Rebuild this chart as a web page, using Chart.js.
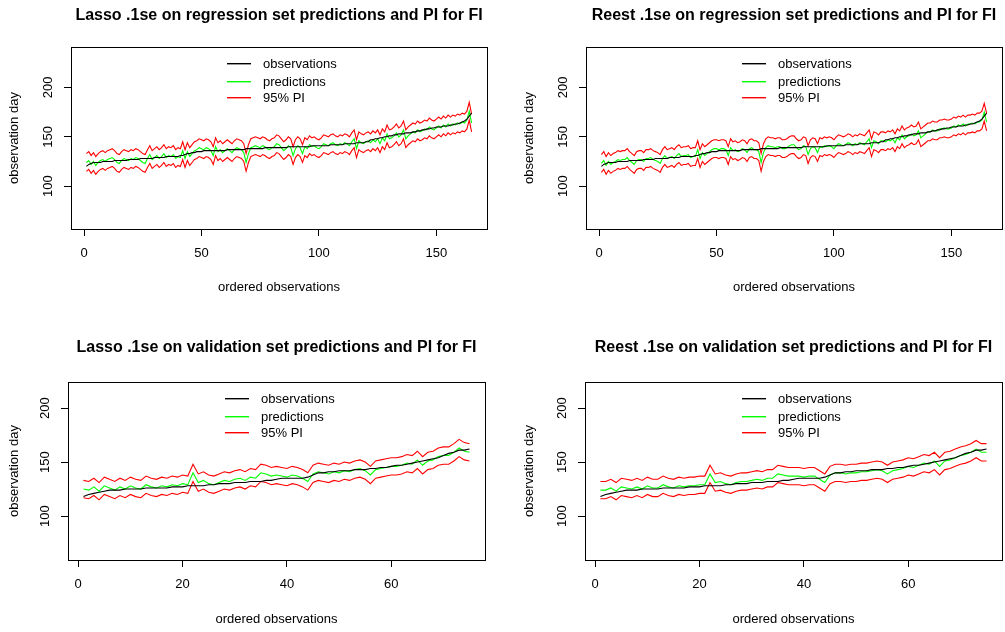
<!DOCTYPE html>
<html>
<head>
<meta charset="utf-8">
<script src="https://cdn.jsdelivr.net/npm/chart.js@4.4.0/dist/chart.umd.min.js"></script>
<style>
  body { margin: 0; background: #fff; }
  #wrap { position: relative; width: 1005px; height: 632px; overflow: hidden; background: #fff; }
  canvas { position: absolute; }
</style>
</head>
<body>
<div id="wrap">
  <canvas id="lassoReg" width="502" height="316" style="left:0px;top:0px"></canvas>
  <canvas id="reestReg" width="490" height="316" style="left:515px;top:0px"></canvas>
  <canvas id="lassoVal" width="502" height="300" style="left:0px;top:332px"></canvas>
  <canvas id="reestVal" width="490" height="300" style="left:515px;top:332px"></canvas>
</div>
<script>
// ---- regression set (165 ordered observations) ----
const obsReg = [
  120,122,123,124,124,124,124,125,125,125,
  125,125,126,126,126,126,126,126,127,127,
  127,127,127,128,128,128,128,128,128,129,
  129,129,129,129,130,130,130,130,130,130,
  131,131,132,133,133,134,134,135,135,135,
  136,136,136,136,136,136,136,136,136,136,
  137,137,137,137,137,137,137,137,138,138,
  138,138,138,138,138,138,139,139,139,139,
  139,139,139,139,139,139,140,140,140,140,
  140,140,140,140,140,140,141,141,141,141,
  141,141,141,141,142,142,142,142,142,142,
  143,143,143,143,143,144,144,144,144,145,
  145,147,147,148,148,149,149,150,150,151,
  151,152,152,153,153,153,154,154,154,155,
  155,156,156,157,157,158,158,159,159,160,
  160,160,161,161,161,162,162,163,163,164,
  165,166,168,171,174
];
const lassoRegPred = [
  124,126,122,125,121,124,126,127,125,127,
  128,129,127,124,123,126,128,127,126,128,
  127,129,128,126,124,123,128,132,127,129,
  131,128,130,133,129,131,130,132,128,130,
  129,136,128,135,130,133,136,137,139,138,
  137,139,138,136,131,140,135,137,134,136,
  138,136,134,137,139,138,137,134,124,133,
  139,140,141,140,139,141,140,138,137,139,
  140,143,142,139,136,138,141,139,131,138,
  141,139,133,140,138,142,140,141,139,138,
  140,143,142,141,143,144,142,141,143,142,
  144,143,141,145,148,138,146,144,143,145,
  146,144,147,145,148,143,149,146,153,148,
  149,151,154,150,152,157,148,151,153,155,
  154,157,155,156,158,157,160,158,157,159,
  161,159,162,160,163,161,163,162,164,163,
  165,164,167,176,164
];
const lassoRegUpper = [
  133,135,131,134,130,133,135,136,134,136,
  137,138,136,133,132,135,137,136,135,137,
  136,138,137,135,133,132,137,141,136,138,
  140,137,139,142,138,140,139,141,137,139,
  138,145,137,144,139,142,145,146,148,147,
  146,148,147,145,140,149,144,146,143,145,
  147,145,143,146,148,147,146,143,133,142,
  148,149,150,149,148,150,149,147,146,148,
  149,152,151,148,145,147,150,148,140,147,
  150,148,142,149,147,151,149,150,148,147,
  149,152,151,150,152,153,151,150,152,151,
  153,152,150,154,157,147,155,153,152,154,
  155,153,156,154,157,152,158,155,162,157,
  158,160,163,159,161,166,157,160,162,164,
  163,166,164,165,167,166,169,167,166,168,
  170,168,171,169,172,170,172,171,173,172,
  174,173,176,185,173
];
const lassoRegLower = [
  115,117,113,116,112,115,117,118,116,118,
  119,120,118,115,114,117,119,118,117,119,
  118,120,119,117,115,114,119,123,118,120,
  122,119,121,124,120,122,121,123,119,121,
  120,127,119,126,121,124,127,128,130,129,
  128,130,129,127,122,131,126,128,125,127,
  129,127,125,128,130,129,128,125,115,124,
  130,131,132,131,130,132,131,129,128,130,
  131,134,133,130,127,129,132,130,122,129,
  132,130,124,131,129,133,131,132,130,129,
  131,134,133,132,134,135,133,132,134,133,
  135,134,132,136,139,129,137,135,134,136,
  137,135,138,136,139,134,140,137,144,139,
  140,142,145,141,143,148,139,142,144,146,
  145,148,146,147,149,148,151,149,148,150,
  152,150,153,151,154,152,154,153,155,154,
  156,155,158,167,155
];
const reestRegPred = [
  123,126,121,125,122,124,125,127,126,127,
  127,129,126,124,122,126,127,127,125,128,
  128,129,127,126,125,123,128,131,128,129,
  130,128,131,133,130,131,131,132,129,130,
  130,137,128,134,131,133,135,137,138,138,
  137,138,138,137,131,139,136,137,135,136,
  138,137,134,138,139,137,137,135,124,134,
  139,141,140,140,139,140,140,138,138,139,
  141,142,142,139,137,138,141,140,132,138,
  140,139,134,140,139,141,140,141,140,138,
  141,143,142,141,142,144,143,141,143,142,
  144,143,142,145,148,139,146,145,143,146,
  146,145,147,146,148,144,149,147,152,148,
  150,151,153,151,152,156,149,151,153,155,
  155,157,156,156,158,158,159,158,158,159,
  161,160,162,161,163,161,163,163,164,163,
  165,165,167,175,165
];
const reestRegUpper = [
  132,135,130,134,131,133,134,136,135,136,
  136,138,135,133,131,135,136,136,134,137,
  137,138,136,135,134,132,137,140,137,138,
  139,137,140,142,139,140,140,141,138,139,
  139,146,137,143,140,142,144,146,147,147,
  146,147,147,146,140,148,145,146,144,145,
  147,146,143,147,148,146,146,144,133,143,
  148,150,149,149,148,149,149,147,147,148,
  150,151,151,148,146,147,150,149,141,147,
  149,148,143,149,148,150,149,150,149,147,
  150,152,151,150,151,153,152,150,152,151,
  153,152,151,154,157,148,155,154,152,155,
  155,154,156,155,157,153,158,156,161,157,
  159,160,162,160,161,165,158,160,162,164,
  164,166,165,165,167,167,168,167,167,168,
  170,169,171,170,172,170,172,172,173,172,
  174,174,176,184,174
];
const reestRegLower = [
  114,117,112,116,113,115,116,118,117,118,
  118,120,117,115,113,117,118,118,116,119,
  119,120,118,117,116,114,119,122,119,120,
  121,119,122,124,121,122,122,123,120,121,
  121,128,119,125,122,124,126,128,129,129,
  128,129,129,128,122,130,127,128,126,127,
  129,128,125,129,130,128,128,126,115,125,
  130,132,131,131,130,131,131,129,129,130,
  132,133,133,130,128,129,132,131,123,129,
  131,130,125,131,130,132,131,132,131,129,
  132,134,133,132,133,135,134,132,134,133,
  135,134,133,136,139,130,137,136,134,137,
  137,136,138,137,139,135,140,138,143,139,
  141,142,144,142,143,147,140,142,144,146,
  146,148,147,147,149,149,150,149,149,150,
  152,151,153,152,154,152,154,154,155,154,
  156,156,158,166,156
];

// ---- validation set (75 ordered observations) ----
const obsVal = [
  118,120,121,122,123,124,124,124,125,125,
  125,125,126,126,126,126,126,127,127,127,
  128,128,128,128,129,129,130,130,130,131,
  131,131,132,132,132,133,133,134,135,135,
  135,135,135,136,138,140,140,141,141,142,
  142,142,143,143,143,144,144,145,145,146,
  147,147,148,149,150,151,152,153,154,156,
  158,159,161,161,162
];
const lassoValPred = [
  125,124,127,123,128,126,124,127,125,128,
  126,125,129,127,126,128,127,129,128,130,
  129,140,131,133,130,129,131,133,132,134,
  135,133,136,135,140,139,137,138,137,136,
  138,137,135,132,139,141,140,139,141,140,
  142,141,143,144,142,138,143,144,145,146,
  146,147,149,148,152,147,151,152,155,156,
  156,159,163,160,159
];
const lassoValUpper = [
  133,132,135,131,136,134,132,135,133,136,
  134,133,137,135,134,136,135,137,136,138,
  137,148,139,141,138,137,139,141,140,142,
  143,141,144,143,148,147,145,146,145,144,
  146,145,143,140,147,149,148,147,149,148,
  150,149,151,152,150,146,151,152,153,154,
  154,155,157,156,160,155,159,160,163,164,
  164,167,171,168,167
];
const lassoValLower = [
  117,116,119,115,120,118,116,119,117,120,
  118,117,121,119,118,120,119,121,120,122,
  121,132,123,125,122,121,123,125,124,126,
  127,125,128,127,132,131,129,130,129,128,
  130,129,127,124,131,133,132,131,133,132,
  134,133,135,136,134,130,135,136,137,138,
  138,139,141,140,144,139,143,144,147,148,
  148,151,155,152,151
];
const reestValPred = [
  124,124,126,123,127,126,125,127,125,128,
  126,126,129,127,126,128,127,128,128,129,
  129,139,131,132,130,129,131,132,132,133,
  134,133,135,135,139,138,137,137,137,136,
  137,137,134,131,138,140,140,139,140,140,
  141,141,142,143,142,139,142,143,144,146,
  145,147,149,148,151,146,151,152,154,156,
  157,159,162,159,159
];
const reestValUpper = [
  132,132,134,131,135,134,133,135,133,136,
  134,134,137,135,134,136,135,136,136,137,
  137,147,139,140,138,137,139,140,140,141,
  142,141,143,143,147,146,145,145,145,144,
  145,145,142,139,146,148,148,147,148,148,
  149,149,150,151,150,147,150,151,152,154,
  153,155,157,156,159,154,159,160,162,164,
  165,167,170,167,167
];
const reestValLower = [
  116,116,118,115,119,118,117,119,117,120,
  118,118,121,119,118,120,119,120,120,121,
  121,131,123,124,122,121,123,124,124,125,
  126,125,127,127,131,130,129,129,129,128,
  129,129,126,123,130,132,132,131,132,132,
  133,133,134,135,134,131,134,135,136,138,
  137,139,141,140,143,138,143,144,146,148,
  149,151,154,151,151
];

const xTicksReg = [0, 50, 100, 150];
const xTicksVal = [0, 20, 40, 60];
const yTicks = [100, 150, 200];
const seriesLabels = ["observations", "predictions", "95% PI"];
const seriesColors = ["#000000", "#00ff00", "#ff0000"];

const FONT = '"Liberation Sans", Arial, Helvetica, sans-serif';
const legendRows = [16.3, 33.7, 49.7];

// box around the plot region, like R's box()
const boxPlugin = {
  id: "rBox",
  afterDraw(chart) {
    const { ctx, chartArea: a } = chart;
    ctx.save();
    ctx.strokeStyle = "#000";
    ctx.lineWidth = 1;
    ctx.strokeRect(Math.round(a.left) + 0.5, Math.round(a.top) + 0.5,
      Math.round(a.right - a.left), Math.round(a.bottom - a.top));
    ctx.restore();
  }
};

// R-style legend with bty="n", at the top centre of the plot
const legendPlugin = {
  id: "rLegend",
  afterDraw(chart) {
    const { ctx, chartArea: a } = chart;
    const cx = Math.round((a.left + a.right) / 2);
    ctx.save();
    ctx.font = "13px " + FONT;
    ctx.textBaseline = "middle";
    ctx.textAlign = "left";
    seriesLabels.forEach((label, i) => {
      const y = Math.round(a.top + legendRows[i]);
      ctx.fillStyle = seriesColors[i];
      ctx.fillRect(cx - 52, y, 24, 1.4);
      ctx.fillStyle = "#000000";
      ctx.fillText(label, cx - 16, y + 1);
    });
    ctx.restore();
  }
};

function makePanel(id, p) {
  const n = p.obs.length;
  const idx = Array.from({ length: n }, (_, i) => i + 1);
  const line = (label, data, color) => ({
    label: label, data: data, borderColor: color, borderWidth: 1.1,
    pointRadius: 0, tension: 0, fill: false
  });

  return new Chart(document.getElementById(id), {
    type: "line",
    data: {
      labels: idx,
      datasets: [
        line(seriesLabels[0], p.obs, seriesColors[0]),
        line(seriesLabels[1], p.pred, seriesColors[1]),
        line(seriesLabels[2], p.upper, seriesColors[2]),
        line(seriesLabels[2], p.lower, seriesColors[2])
      ]
    },
    options: {
      responsive: false,
      animation: false,
      devicePixelRatio: 1,
      layout: { padding: { left: 0, top: 0, right: p.padRight, bottom: 0 } },
      plugins: {
        legend: { display: false },
        tooltip: { enabled: false },
        title: {
          display: true,
          text: p.title,
          fullSize: false,
          color: "#000",
          font: { family: FONT, size: 16, weight: "bold" },
          padding: { top: 6, bottom: p.titleGap }
        }
      },
      scales: {
        x: {
          type: "linear",
          min: p.xMin, max: p.xMax,
          afterBuildTicks: s => { s.ticks = p.xTicks.map(v => ({ value: v })); },
          afterFit: s => { s.height = p.xAxisH; },
          grid: { drawOnChartArea: false, drawTicks: true, tickLength: 7, color: "#000", lineWidth: 1 },
          border: { display: false },
          ticks: { color: "#000", font: { family: FONT, size: 13 }, padding: 10, maxRotation: 0 },
          title: {
            display: true, text: "ordered observations", color: "#000",
            font: { family: FONT, size: 13 }, padding: { top: 0, bottom: p.xTitlePad }
          }
        },
        y: {
          type: "linear",
          min: p.yMin, max: p.yMax,
          afterBuildTicks: s => { s.ticks = yTicks.map(v => ({ value: v })); },
          afterFit: s => { s.width = p.yAxisW; },
          grid: { drawOnChartArea: false, drawTicks: true, tickLength: 7, color: "#000", lineWidth: 1 },
          border: { display: false },
          ticks: {
            color: "#000", font: { family: FONT, size: 13 }, padding: 5,
            minRotation: 90, maxRotation: 90, crossAlign: "center"
          },
          title: {
            display: true, text: "observation day", color: "#000",
            font: { family: FONT, size: 13 }, padding: { top: 7, bottom: 0 }
          }
        }
      }
    },
    plugins: [boxPlugin, legendPlugin]
  });
}

makePanel("lassoReg", {
  title: "Lasso .1se on regression set predictions and PI for FI",
  obs: obsReg, pred: lassoRegPred, upper: lassoRegUpper, lower: lassoRegLower,
  xTicks: xTicksReg, xMin: -5.56, xMax: 171.56, yMin: 56.6, yMax: 241,
  yAxisW: 71, padRight: 15, titleGap: 21.8, xAxisH: 87, xTitlePad: 21.2
});
makePanel("reestReg", {
  title: "Reest .1se on regression set predictions and PI for FI",
  obs: obsReg, pred: reestRegPred, upper: reestRegUpper, lower: reestRegLower,
  xTicks: xTicksReg, xMin: -5.56, xMax: 171.56, yMin: 56.6, yMax: 241,
  yAxisW: 71, padRight: 3, titleGap: 21.8, xAxisH: 87, xTitlePad: 21.2
});
makePanel("lassoVal", {
  title: "Lasso .1se on validation set predictions and PI for FI",
  obs: obsVal, pred: lassoValPred, upper: lassoValUpper, lower: lassoValLower,
  xTicks: xTicksVal, xMin: -1.96, xMax: 77.96, yMin: 59.3, yMax: 224.1,
  yAxisW: 68, padRight: 17, titleGap: 24.8, xAxisH: 72, xTitlePad: 5.2
});
makePanel("reestVal", {
  title: "Reest .1se on validation set predictions and PI for FI",
  obs: obsVal, pred: reestValPred, upper: reestValUpper, lower: reestValLower,
  xTicks: xTicksVal, xMin: -1.96, xMax: 77.96, yMin: 59.3, yMax: 224.1,
  yAxisW: 70, padRight: 3, titleGap: 24.8, xAxisH: 72, xTitlePad: 5.2
});
</script>
</body>
</html>
